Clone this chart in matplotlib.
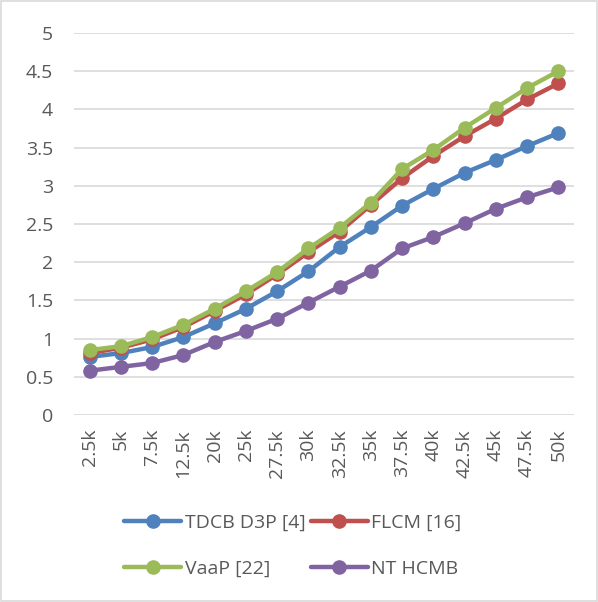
import matplotlib
matplotlib.use("Agg")
import matplotlib.pyplot as plt
from matplotlib.patches import Rectangle

categories = ["2.5k", "5k", "7.5k", "12.5k", "20k", "25k", "27.5k", "30k",
              "32.5k", "35k", "37.5k", "40k", "42.5k", "45k", "47.5k", "50k"]
tdcb = [0.76, 0.81, 0.89, 1.02, 1.20, 1.39, 1.62, 1.88, 2.20, 2.46, 2.74, 2.96, 3.17, 3.34, 3.52, 3.69]
flcm = [0.81, 0.88, 0.99, 1.15, 1.36, 1.58, 1.84, 2.13, 2.40, 2.75, 3.10, 3.39, 3.65, 3.88, 4.13, 4.34]
vaap = [0.85, 0.90, 1.02, 1.18, 1.39, 1.62, 1.87, 2.18, 2.45, 2.78, 3.22, 3.47, 3.76, 4.02, 4.28, 4.50]
nthcmb = [0.58, 0.63, 0.68, 0.785, 0.955, 1.10, 1.26, 1.47, 1.68, 1.89, 2.18, 2.33, 2.51, 2.70, 2.85, 2.98]
series_names = ["TDCB D3P [4]", "FLCM [16]", "VaaP [22]", "NT HCMB"]
yticks = [0, 0.5, 1, 1.5, 2, 2.5, 3, 3.5, 4, 4.5, 5]
ytick_labels = ["0", "0.5", "1", "1.5", "2", "2.5", "3", "3.5", "4", "4.5", "5"]

colors = ["#4f81bd", "#c0504d", "#9bbb59", "#8064a2"]
plt.rcParams['font.family'] = ['Open Sans', 'DejaVu Sans']

fig = plt.figure(figsize=(5.98, 6.02), dpi=100)
fig.patches.append(Rectangle((0.002, 0.002), 0.996, 0.996, transform=fig.transFigure,
                             fill=False, edgecolor="#d9d9d9", linewidth=1.2))
ax = fig.add_axes([74/598, 1-415/602, 500/598, (415-33)/602])

x = list(range(len(categories)))
lines = []
for data, name, c in zip([tdcb, flcm, vaap, nthcmb], series_names, colors):
    ln, = ax.plot(x, data, color=c, linewidth=3.2, marker='o', markersize=9.5,
                  label=name, solid_capstyle='round')
    lines.append(ln)

ax.set_xlim(-0.5, len(categories) - 0.5)
ax.set_ylim(0, 5)
ax.set_yticks(yticks)
ax.set_yticklabels(ytick_labels)
ax.set_xticks(x)
ax.set_xticklabels(categories, rotation=90)
ax.grid(axis='y', color="#d9d9d9", linewidth=1.2)
ax.set_axisbelow(True)
for s in ax.spines.values():
    s.set_visible(False)
ax.tick_params(axis='both', length=0, colors="#595959", labelsize=14)
ax.tick_params(axis='y', pad=15)
ax.tick_params(axis='x', pad=10)

order = [0, 2, 1, 3]
fig.legend([lines[i] for i in order], [series_names[i] for i in order],
           loc='center', bbox_to_anchor=(293/598, 1-546/602), ncol=2, frameon=False,
           fontsize=14, labelcolor="#595959", handlelength=2.9, handletextpad=0.2,
           columnspacing=0.3, labelspacing=1.45)

fig.savefig("out.png", dpi=100)
